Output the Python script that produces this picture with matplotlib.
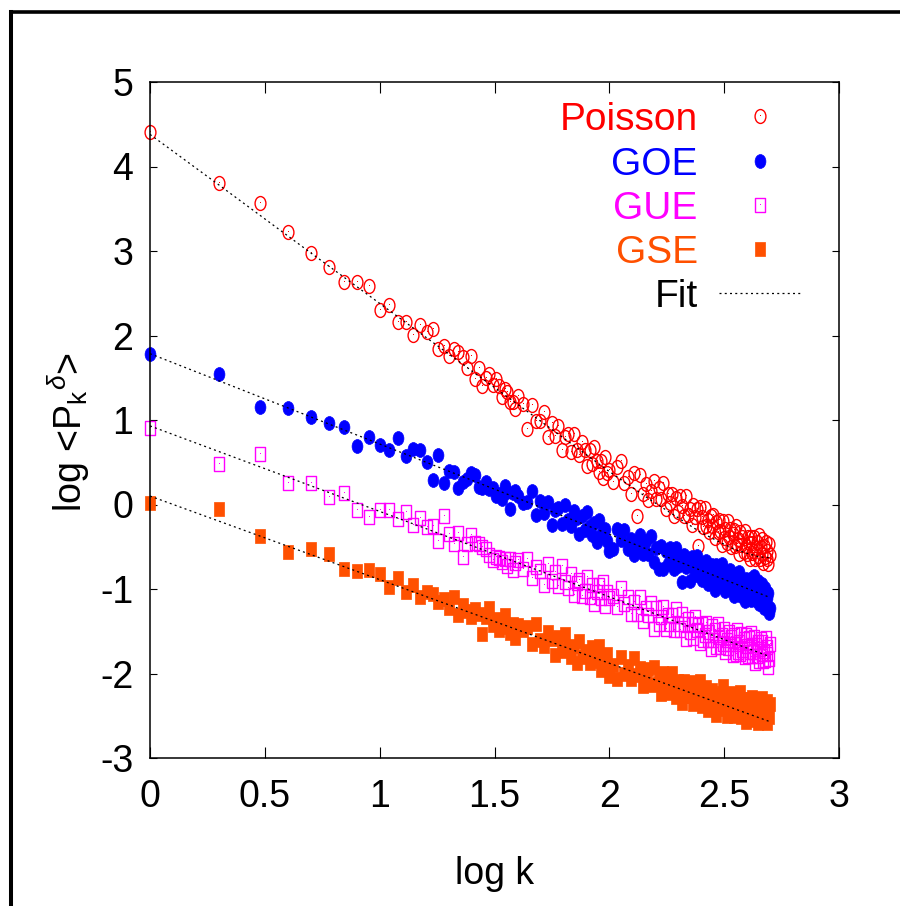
import numpy as np
import matplotlib
matplotlib.use('Agg')
import matplotlib.pyplot as plt
from matplotlib.path import Path
from matplotlib.lines import Line2D

plt.rcParams['font.family'] = ['Liberation Sans', 'DejaVu Sans']
plt.rcParams['mathtext.fontset'] = 'custom'
plt.rcParams['mathtext.rm'] = 'Liberation Sans'
plt.rcParams['mathtext.it'] = 'Liberation Sans:italic'

# spectral index k (all k up to 40, then sampled)
k = np.array(list(range(1, 41)) + list(range(42, 101, 2)) + list(range(104, 501, 4)))

poisson = [4.41, 3.80, 3.57, 3.23, 2.98, 2.81, 2.63, 2.63, 2.58, 2.30,
           2.36, 2.16, 2.16, 2.01, 2.13, 2.04, 2.08, 1.84, 1.87, 1.76,
           1.84, 1.80, 1.74, 1.62, 1.76, 1.49, 1.62, 1.40, 1.50, 1.54,
           1.42, 1.49, 1.40, 1.27, 1.37, 1.33, 1.21, 1.21, 1.13, 1.28,
           1.19, 0.89, 1.18, 0.99, 0.99, 1.10, 0.80, 0.96, 0.81, 0.93,
           0.65, 0.80, 0.83, 0.62, 0.84, 0.65, 0.58, 0.74, 0.65, 0.45,
           0.65, 0.48, 0.68, 0.51, 0.39, 0.52, 0.31, 0.56, 0.37, 0.41,
           0.27, 0.44, 0.51, 0.26, 0.33, 0.12, 0.37, -0.14, 0.35, 0.13,
           0.24, 0.05, 0.16, 0.28, 0.06, 0.20, 0.06, 0.26, -0.05, 0.12,
           0.02, 0.13, -0.14, 0.08, -0.09, 0.10, -0.02, -0.14, 0.10, -0.12,
           -0.05, -0.24, -0.01, -0.15, -0.05, -0.49, -0.03, -0.15, -0.27, -0.04,
           -0.25, -0.18, -0.33, -0.14, -0.25, -0.12, -0.40, -0.21, -0.32, -0.18,
           -0.31, -0.48, -0.20, -0.40, -0.29, -0.45, -0.19, -0.39, -0.29, -0.50,
           -0.35, -0.30, -0.49, -0.26, -0.47, -0.41, -0.58, -0.32, -0.48, -0.39,
           -0.56, -0.31, -0.49, -0.59, -0.39, -0.45, -0.64, -0.39, -0.57, -0.45,
           -0.55, -0.39, -0.65, -0.52, -0.44, -0.61, -0.36, -0.65, -0.50, -0.58,
           -0.41, -0.69, -0.49, -0.62, -0.44, -0.65, -0.55, -0.71, -0.47, -0.60]

goe = [1.78, 1.55, 1.15, 1.14, 1.04, 0.97, 0.92, 0.69, 0.80, 0.70,
       0.64, 0.79, 0.57, 0.66, 0.64, 0.50, 0.29, 0.58, 0.25, 0.40,
       0.38, 0.19, 0.27, 0.30, 0.37, 0.35, 0.21, 0.20, 0.27, 0.18,
       0.20, 0.10, 0.12, 0.07, 0.22, 0.15, -0.05, 0.14, 0.16, 0.10,
       0.02, 0.03, 0.16, -0.13, 0.04, -0.10, 0.03, -0.24, -0.07, -0.04,
       -0.23, -0.01, -0.18, -0.25, -0.08, -0.16, -0.35, -0.14, -0.30, -0.09,
       -0.25, -0.36, -0.22, -0.44, -0.18, -0.36, -0.31, -0.29, -0.43, -0.55,
       -0.53, -0.29, -0.42, -0.30, -0.53, -0.41, -0.60, -0.48, -0.36, -0.58,
       -0.43, -0.58, -0.37, -0.68, -0.51, -0.76, -0.49, -0.76, -0.55, -0.71,
       -0.51, -0.63, -0.76, -0.51, -0.73, -0.65, -0.92, -0.60, -0.74, -0.64,
       -0.90, -0.62, -0.74, -0.84, -0.61, -0.83, -0.75, -0.89, -0.70, -0.81,
       -0.67, -0.94, -0.76, -0.87, -0.72, -0.84, -1.01, -0.72, -0.93, -0.82,
       -0.97, -0.71, -0.90, -0.81, -1.02, -0.86, -0.81, -0.99, -0.77, -0.97,
       -0.91, -1.08, -0.82, -0.98, -0.88, -1.05, -0.80, -0.98, -1.08, -0.89,
       -0.95, -1.14, -0.88, -1.06, -0.94, -1.04, -0.88, -1.13, -1.01, -0.92,
       -1.10, -0.85, -1.13, -0.99, -1.06, -0.91, -1.18, -0.98, -1.11, -0.94,
       -1.15, -1.05, -1.23, -0.99, -1.11, -1.20, -1.11, -1.05, -1.28, -1.22]

gue = [0.90, 0.48, 0.60, 0.26, 0.25, 0.09, 0.14, -0.07, -0.15, -0.07,
       -0.07, -0.17, -0.09, -0.24, -0.16, -0.27, -0.26, -0.43, -0.14, -0.35,
       -0.47, -0.34, -0.62, -0.47, -0.36, -0.45, -0.47, -0.50, -0.53, -0.60,
       -0.66, -0.62, -0.63, -0.68, -0.65, -0.73, -0.65, -0.78, -0.69, -0.66,
       -0.76, -0.65, -0.87, -0.74, -0.79, -0.95, -0.70, -0.91, -0.80, -0.97,
       -0.73, -0.92, -0.99, -0.82, -1.07, -0.93, -0.89, -1.08, -1.02, -0.86,
       -1.09, -0.95, -1.18, -1.04, -0.95, -1.11, -0.92, -1.20, -1.04, -1.11,
       -1.08, -1.21, -0.99, -1.18, -1.09, -1.30, -1.15, -1.29, -1.10, -1.38,
       -1.23, -1.31, -1.17, -1.47, -1.23, -1.41, -1.33, -1.21, -1.47, -1.31,
       -1.42, -1.31, -1.49, -1.24, -1.42, -1.49, -1.30, -1.41, -1.59, -1.35,
       -1.51, -1.42, -1.58, -1.33, -1.49, -1.43, -1.64, -1.42, -1.60, -1.55,
       -1.40, -1.60, -1.51, -1.71, -1.44, -1.60, -1.48, -1.69, -1.41, -1.57,
       -1.69, -1.54, -1.65, -1.47, -1.74, -1.60, -1.70, -1.51, -1.65, -1.57,
       -1.78, -1.55, -1.65, -1.77, -1.48, -1.74, -1.63, -1.77, -1.53, -1.72,
       -1.59, -1.81, -1.55, -1.67, -1.79, -1.58, -1.74, -1.52, -1.79, -1.66,
       -1.74, -1.57, -1.87, -1.66, -1.79, -1.63, -1.85, -1.71, -1.59, -1.77,
       -1.63, -1.85, -1.73, -1.84, -1.58, -1.77, -1.69, -1.92, -1.83, -1.65]

gse = [0.02, -0.05, -0.37, -0.56, -0.53, -0.59, -0.76, -0.79, -0.78, -0.82,
       -0.98, -0.87, -1.03, -0.95, -1.10, -1.04, -1.06, -1.15, -1.12, -1.23,
       -1.10, -1.31, -1.19, -1.26, -1.33, -1.24, -1.29, -1.53, -1.33, -1.23,
       -1.43, -1.36, -1.48, -1.39, -1.31, -1.45, -1.52, -1.42, -1.58, -1.43,
       -1.48, -1.45, -1.65, -1.42, -1.60, -1.67, -1.51, -1.59, -1.78, -1.57,
       -1.73, -1.53, -1.69, -1.81, -1.67, -1.88, -1.62, -1.80, -1.75, -1.73,
       -1.88, -1.69, -1.85, -1.83, -1.68, -1.96, -1.78, -1.91, -1.77, -2.03,
       -1.90, -2.07, -1.80, -2.01, -1.91, -2.07, -1.82, -2.02, -1.93, -2.15,
       -2.00, -1.95, -2.14, -1.92, -2.13, -2.07, -2.24, -1.99, -2.15, -2.06,
       -2.23, -1.99, -2.17, -2.28, -2.09, -2.16, -2.35, -2.09, -2.27, -2.16,
       -2.27, -2.10, -2.36, -2.24, -2.16, -2.33, -2.09, -2.38, -2.23, -2.31,
       -2.16, -2.43, -2.23, -2.37, -2.20, -2.41, -2.31, -2.49, -2.26, -2.38,
       -2.42, -2.23, -2.15, -2.39, -2.30, -2.50, -2.24, -2.36, -2.23, -2.45,
       -2.31, -2.50, -2.37, -2.24, -2.45, -2.30, -2.43, -2.22, -2.52, -2.34,
       -2.43, -2.30, -2.57, -2.35, -2.51, -2.30, -2.42, -2.54, -2.28, -2.50,
       -2.36, -2.55, -2.31, -2.44, -2.34, -2.59, -2.30, -2.42, -2.52, -2.29,
       -2.50, -2.41, -2.56, -2.36, -2.46, -2.32, -2.59, -2.41, -2.51, -2.36]

# fitted curves
fit_k_poisson = [1, 2, 5, 10, 20, 50, 100, 150, 200, 250, 300, 350, 400, 450, 500]
fit_poisson = [4.38, 3.78, 2.98, 2.38, 1.78, 0.99, 0.39, 0.06, -0.16, -0.33,
               -0.44, -0.53, -0.58, -0.62, -0.63]
fit_k_line = [1, 500]
fit_goe = [1.785, -1.10]
fit_gue = [0.93, -1.80]
fit_gse = [0.10, -2.57]

labels = ['Poisson', 'GOE', 'GUE', 'GSE', 'Fit']
colors = ['#ff0000', '#0000ff', '#ff00ff', '#ff5000', 'black']
xticks = [0, 0.5, 1, 1.5, 2, 2.5, 3]
xticklabels = ['0', '0.5', '1', '1.5', '2', '2.5', '3']
yticks = [-3, -2, -1, 0, 1, 2, 3, 4, 5]
yticklabels = ['-3', '-2', '-1', '0', '1', '2', '3', '4', '5']

# tall markers (the original is stretched vertically)
circ = Path.unit_circle()
ellipse = Path(circ.vertices * np.array([0.78, 1.0]), circ.codes)
box = Path([(-0.75, -1), (0.75, -1), (0.75, 1), (-0.75, 1), (-0.75, -1)],
           [Path.MOVETO, Path.LINETO, Path.LINETO, Path.LINETO, Path.CLOSEPOLY])

fig = plt.figure(figsize=(9, 9.06), dpi=100)
ax = fig.add_axes([150/900, 1 - 758/906, 689/900, 676/906])

logk = np.log10(k)
ms = 10
ax.plot(logk, poisson, ls='none', marker=ellipse, ms=ms, mfc='none', mec=colors[0], mew=1.0, clip_on=False)
ax.plot(logk, poisson, ls='none', marker=',', color=colors[0], clip_on=False)
ax.plot(logk, goe, ls='none', marker=ellipse, ms=ms, mfc=colors[1], mec=colors[1], mew=0.5, clip_on=False)
ax.plot(logk, gue, ls='none', marker=box, ms=ms, mfc='none', mec=colors[2], mew=1.0, clip_on=False)
ax.plot(logk, gue, ls='none', marker=',', color=colors[2], clip_on=False)
ax.plot(logk, gse, ls='none', marker=box, ms=ms - 0.6, mfc=colors[3], mec=colors[3], mew=0.5, clip_on=False)

dots = (0, (1.6, 2.6))
ax.plot(np.log10(fit_k_poisson), fit_poisson, color='black', lw=0.9, ls=dots, zorder=3)
for fy in (fit_goe, fit_gue, fit_gse):
    ax.plot(np.log10(fit_k_line), fy, color='black', lw=0.9, ls=dots, zorder=3)

ax.set_xlim(0, 3)
ax.set_ylim(-3, 5)
ax.set_xticks(xticks)
ax.set_xticklabels(xticklabels)
ax.set_yticks(yticks)
ax.set_yticklabels(yticklabels)
ax.tick_params(direction='in', top=True, right=True, width=0.8, labelsize=27)
ax.tick_params(axis='x', length=8, pad=15)
ax.tick_params(axis='y', length=5, pad=12)
for s in ax.spines.values():
    s.set_linewidth(1.1)

ax.set_xlabel('log k', fontsize=27, va='baseline')
ax.xaxis.set_label_coords(0.5, -0.186)
ax.set_ylabel(r'log <P$_{\mathrm{k}}$$^{\delta}$>', fontsize=27, va='center')
ax.yaxis.set_label_coords(-0.118, 0.482)

# key, text right-aligned left of the symbols
key_y = [0.9501, 0.8836, 0.8180, 0.7525]
key_marks = [dict(marker=ellipse, mfc='none', mew=1.0), dict(marker=ellipse, mfc=colors[1], mew=0.5),
             dict(marker=box, mfc='none', mew=1.0), dict(marker=box, mfc=colors[3], mew=0.5)]
for i in range(4):
    ax.text(0.7949, key_y[i] - 0.0205, labels[i], color=colors[i], fontsize=28,
            ha='right', va='baseline', transform=ax.transAxes)
    ax.plot([0.8853], [key_y[i]], ls='none', ms=ms, mec=colors[i], transform=ax.transAxes,
            clip_on=False, **key_marks[i])
    if key_marks[i]['mfc'] == 'none':
        ax.plot([0.8853], [key_y[i]], ls='none', marker=',', color=colors[i], transform=ax.transAxes)
ax.text(0.7949, 0.6678, labels[4], color='black', fontsize=28, ha='right', va='baseline',
        transform=ax.transAxes)
ax.plot([0.8263, 0.9434], [0.6883, 0.6883], color='black', lw=0.9, ls=dots, transform=ax.transAxes)

# outer frame (only left and top edges are visible)
fig.add_artist(Line2D([10.5/900, 10.5/900], [0, 1 - 11.5/906], transform=fig.transFigure,
                      color='black', lw=2.9, solid_capstyle='projecting'))
fig.add_artist(Line2D([10.5/900, 1], [1 - 11.5/906, 1 - 11.5/906], transform=fig.transFigure,
                      color='black', lw=2.6, solid_capstyle='projecting'))

fig.savefig('out.png', dpi=100)
